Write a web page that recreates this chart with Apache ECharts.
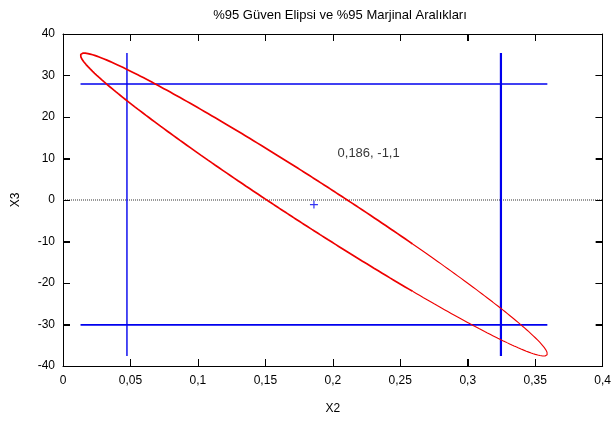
<!DOCTYPE html>
<html><head><meta charset="utf-8">
<script src="https://cdn.jsdelivr.net/npm/echarts@6/dist/echarts.min.js"></script>
<style>html,body{margin:0;padding:0;background:#fff}#c{width:614px;height:421px}</style>
</head><body><div id="c"></div>
<script>
var titleText = '%95 Güven Elipsi ve %95 Marjinal Aralıkları';
var xTicks = [0, 0.05, 0.1, 0.15, 0.2, 0.25, 0.3, 0.35, 0.4];
var yTicks = [-40, -30, -20, -10, 0, 10, 20, 30, 40];
var center = [0.186, -1.1];
var ellipseHalfRange = [0.173, 36.5];
var ellipseCorr = -0.985;
var xInterval = [0.0474, 0.3246];
var yInterval = [-30.1, 27.95];
var centerLabel = '0,186, -1,1';
var labelPos = [0.2035, 11.3];

var N = 720;
var ellipse = [];
for (var i = 0; i <= N; i++) {
  var t = i / N * 2 * Math.PI;
  ellipse.push([
    center[0] + ellipseHalfRange[0] * Math.cos(t),
    center[1] + ellipseHalfRange[1] * (ellipseCorr * Math.cos(t) + Math.sqrt(1 - ellipseCorr * ellipseCorr) * Math.sin(t))
  ]);
}
var split = 0.26;
var heavy = [], lightA = [], lightB = [], seenHeavy = false;
ellipse.forEach(function (p) {
  if (p[0] <= split) { heavy.push(p); seenHeavy = true; }
  else if (!seenHeavy) lightA.push(p); else lightB.push(p);
});
var light = lightB.concat(lightA);
if (heavy.length) { light.unshift(heavy[heavy.length - 1]); light.push(heavy[0]); }

var xLo = center[0] - ellipseHalfRange[0], xHi = center[0] + ellipseHalfRange[0];
var yLo = center[1] - ellipseHalfRange[1], yHi = center[1] + ellipseHalfRange[1];
var xMin = xTicks[0], xMax = xTicks[xTicks.length - 1];
var yMin = yTicks[0], yMax = yTicks[yTicks.length - 1];

function fmt(v) { return String(+(+v).toFixed(3)).replace('.', ','); }
var font = 'Liberation Sans';
var W = 614, H = 421, GL = 63, GR = 9, GT = 34, GB = 55;
var chart = echarts.init(document.getElementById('c'), null, {renderer: 'canvas', width: W, height: H});
function lineSeries(data, color, width, type, z) {
  return {type: 'line', data: data, showSymbol: false, symbol: 'none', silent: true, animation: false, z: z || 3,
    lineStyle: {color: color, width: width, type: type || 'solid'}, xAxisIndex: 0, yAxisIndex: 0};
}
function axisBase(extra) {
  var o = {type: 'value', splitLine: {show: false},
    axisTick: {show: true, inside: true, length: 7, lineStyle: {color: '#000', width: 1}},
    axisLine: {show: true, onZero: false, lineStyle: {color: '#000', width: 1}}};
  for (var k in extra) o[k] = extra[k];
  return o;
}
chart.setOption({
  animation: false,
  title: {text: titleText, left: 335, top: 4, textAlign: 'center',
    textStyle: {fontFamily: font, fontSize: 13, fontWeight: 'normal', color: '#000'}},
  grid: {left: GL, right: GR, top: GT, bottom: GB, show: false},
  xAxis: [axisBase({
    min: xMin, max: xMax, interval: 0.05,
    name: 'X2', nameLocation: 'middle', nameGap: 37,
    nameTextStyle: {fontFamily: font, fontSize: 12, color: '#000'},
    axisLabel: {formatter: fmt, fontFamily: font, fontSize: 12, color: '#000', margin: 9}
  }), axisBase({
    position: 'top', min: xMin, max: xMax, interval: 0.05, axisLabel: {show: false}
  })],
  yAxis: [axisBase({
    min: yMin, max: yMax, interval: 10,
    name: 'X3', nameLocation: 'middle', nameGap: 41, nameRotate: 90,
    nameTextStyle: {fontFamily: font, fontSize: 12, color: '#000'},
    axisLabel: {formatter: fmt, fontFamily: font, fontSize: 12, color: '#000', margin: 8}
  }), axisBase({
    position: 'right', min: yMin, max: yMax, interval: 10, axisLabel: {show: false}
  })],
  series: [
    lineSeries([[xMin, 0], [xMax, 0]], '#333', 1, 'dotted'),
    lineSeries([[xLo, yInterval[1]], [xHi, yInterval[1]]], '#0000ee', 1.6),
    lineSeries([[xLo, yInterval[0]], [xHi, yInterval[0]]], '#0000ee', 1.6),
    lineSeries([[xInterval[0], yLo], [xInterval[0], yHi]], '#0000ee', 1.4),
    lineSeries([[xInterval[1], yLo], [xInterval[1], yHi]], '#0000ee', 2.2),
    lineSeries(heavy, '#ee0000', 1.7),
    lineSeries(light, '#ee0000', 1.1),
    {type: 'scatter', data: [center], symbol: 'path://M0,5L10,5M5,0L5,10', symbolSize: 8,
      itemStyle: {color: 'none', borderColor: '#0000ee', borderWidth: 1.2}, silent: true},
    {type: 'scatter', data: [labelPos], symbolSize: 0, silent: true,
      label: {show: true, position: 'right', distance: 0, formatter: centerLabel,
        fontFamily: font, fontSize: 13, color: '#000'}}
  ]
});

// tick marks placed through the chart's own coordinate conversion
var TL = 7, tickEls = [];
function px(v) { return chart.convertToPixel({xAxisIndex: 0, yAxisIndex: 0}, v); }
xTicks.slice(1, -1).forEach(function (v) {
  var b = px([v, yMin]), t = px([v, yMax]), x = Math.round(b[0]) + 0.5;
  tickEls.push({type: 'line', shape: {x1: x, y1: b[1], x2: x, y2: b[1] - TL}, style: {stroke: '#000', lineWidth: 1}, z: 100});
  tickEls.push({type: 'line', shape: {x1: x, y1: t[1], x2: x, y2: t[1] + TL}, style: {stroke: '#000', lineWidth: 1}, z: 100});
});
yTicks.slice(1, -1).forEach(function (v) {
  var l = px([xMin, v]), r = px([xMax, v]), y = Math.round(l[1]) + 0.5;
  tickEls.push({type: 'line', shape: {x1: l[0], y1: y, x2: l[0] + TL, y2: y}, style: {stroke: '#000', lineWidth: 1}, z: 100});
  tickEls.push({type: 'line', shape: {x1: r[0], y1: y, x2: r[0] - TL, y2: y}, style: {stroke: '#000', lineWidth: 1}, z: 100});
});
chart.setOption({graphic: {elements: tickEls}});
</script></body></html>
